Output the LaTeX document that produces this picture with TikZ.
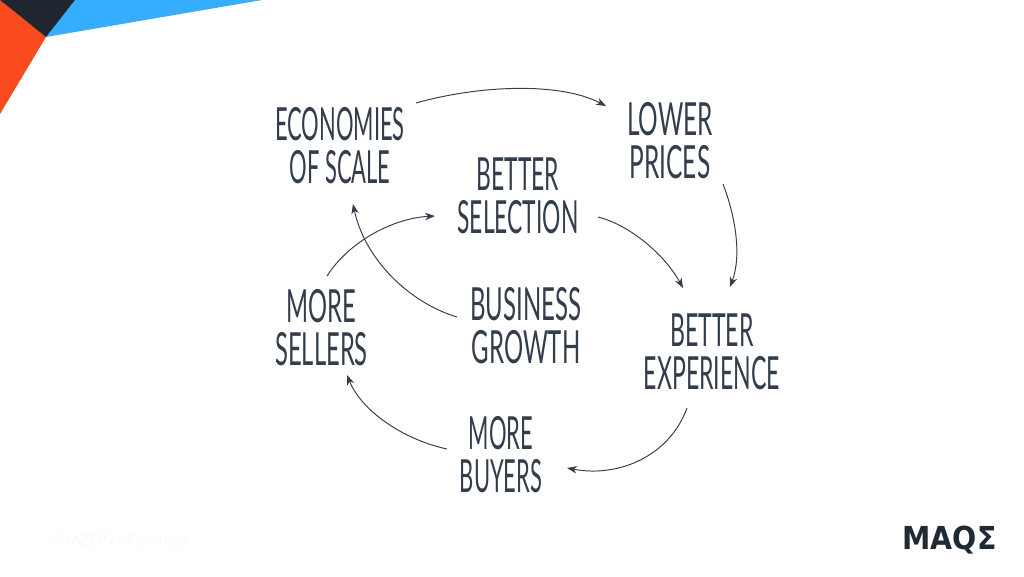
\documentclass[tikz,border=0pt]{standalone}
\usepackage{fontspec}
\setmainfont{Lato}
\newfontfamily\captionfont{Lato Light}
\newfontfamily\logofont{DejaVu Sans}
\usepackage{xcolor}
\usetikzlibrary{arrows.meta}
\usetikzlibrary{positioning}
\usetikzlibrary{calc}
\definecolor{inkblue}{HTML}{333D4B}
\definecolor{cornerorange}{HTML}{FB4B1E}
\definecolor{cornerblue}{HTML}{35AEFF}
\definecolor{cornerdark}{HTML}{1F2630}
\definecolor{logodark}{HTML}{1F2A36}
\definecolor{faintgray}{HTML}{F5F5F5}
\renewcommand{\arraystretch}{0.83}
\tikzset{
    word/.style={
        text=inkblue,
        align=center,
        inner sep=0pt,
        font=\fontsize{26}{22.8}\selectfont
    },
    flow/.style={
        draw=inkblue,
        line width=0.55pt,
        -{Stealth[length=2mm, width=1.5mm]}
    }
}
\newcommand{\thinword}[2][0.5]{\scalebox{#1}[1]{\begin{tabular}{@{}c@{}}#2\end{tabular}}}
\begin{document}
\begin{tikzpicture}[x=0.02cm,y=-0.02cm]
  \useasboundingbox (0,0) rectangle (1024,576);
  % Corner shapes
  \fill[cornerblue] (46,37) -- (75,0) -- (262,0) -- cycle;
  \fill[cornerorange] (0,0) -- (46,37) -- (0,114) -- cycle;
  \fill[cornerdark] (0,0) -- (75,0) -- (46,37) -- cycle;

  % Words
  \node[word] (economies) at (340,150) {\thinword[0.48]{ECONOMIES\\OF SCALE}};
  \node[word] (lower) at (670,145) {\thinword[0.535]{LOWER\\PRICES}};
  \node[word] (selection) at (518,201) {\thinword[0.5]{BETTER\\SELECTION}};
  \node[word] (growth) at (526,330) {\thinword[0.525]{BUSINESS\\GROWTH}};
  \node[word] (sellers) at (321.5,332) {\thinword[0.52]{MORE\\SELLERS}};
  \node[word] (experience) at (712,356.5) {\thinword[0.505]{BETTER\\EXPERIENCE}};
  \node[word] (buyers) at (501,459) {\thinword[0.48]{MORE\\BUYERS}};

  % Connect the words
  \draw[flow] ($(economies)+(76,-47)$) .. controls +(64,-18) and +(-46,-24) .. ($(lower)+(-64,-39)$);
  \draw[flow] ($(lower)+(53,39)$) .. controls +(12,31) and +(12,-32) .. ($(experience)+(18,-69.5)$);
  \draw[flow] ($(selection)+(80,16)$) .. controls +(32,8) and +(-18,-33) .. ($(experience)+(-29,-68.5)$);
  \draw[flow] ($(experience)+(-25,51.5)$) .. controls +(-17,47) and +(53,10) .. ($(buyers)+(66,9)$);
  \draw[flow] ($(buyers)+(-54,-10)$) .. controls +(-42,-9) and +(15,37) .. ($(sellers)+(25.5,43)$);
  \draw[flow] ($(sellers)+(5.5,-56)$) .. controls +(23,-36) and +(-40,2) .. ($(selection)+(-83,15)$);
  \draw[flow] ($(growth)+(-69,-13)$) .. controls +(-47,-14) and +(12,56) .. ($(economies)+(13,54)$);

  % Footer
  \node[text=faintgray, font=\captionfont\fontsize{8.8}{11}\selectfont] (caption) at (117,541) {AMAZON's Flywheel};
  \node[text=logodark, font=\logofont\bfseries\fontsize{18}{18}\selectfont] (logo) at (949.5,540) {\scalebox{0.9}[1]{MAQΣ}};
\end{tikzpicture}
\end{document}
